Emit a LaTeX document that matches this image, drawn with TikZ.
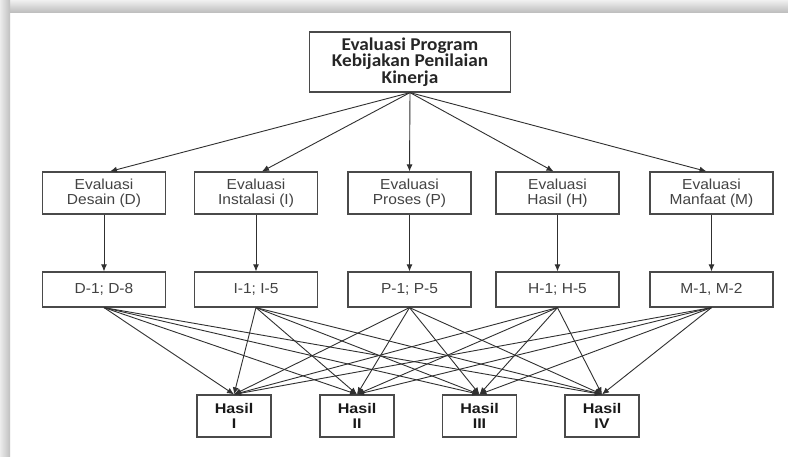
\documentclass[tikz,border=0pt]{standalone}
\usepackage{fontspec}
\usetikzlibrary{arrows.meta}
\newfontfamily\evalfont[FakeStretch=1.07]{Liberation Sans}
\newfontfamily\hasilfont[FakeStretch=1.15]{Liberation Sans}
\newfontfamily\titlefont[FakeStretch=1.07]{Carlito}
\definecolor{boxgray}{HTML}{4A4A4A}
\definecolor{linegray}{HTML}{303030}
\definecolor{txtgray}{HTML}{424242}
\begin{document}
\begin{tikzpicture}[x=1pt,y=-1pt,
  basebox/.style={draw=boxgray, line width=1.2pt, fill=white, align=center, inner sep=0pt},
  topbox/.style={basebox, minimum width=201pt, minimum height=60pt,
    font=\titlefont\bfseries\fontsize{18}{16.7}\selectfont, text=black!85},
  evalbox/.style={basebox, minimum width=123pt, minimum height=42pt,
    font=\evalfont\fontsize{14.5}{15}\selectfont, text=txtgray},
  kodebox/.style={basebox, minimum width=123pt, minimum height=35pt,
    font=\evalfont\fontsize{14.5}{15}\selectfont, text=txtgray},
  hasilbox/.style={basebox, minimum width=74pt, minimum height=42pt,
    font=\hasilfont\bfseries\fontsize{14}{15}\selectfont, text=black!90},
  link/.style={draw=linegray, line width=0.9pt, -{Latex[length=7pt,width=6pt]}}]

% page and window frame
\useasboundingbox (0,0) rectangle (788,456);
\fill[white] (0,0) rectangle (788,456);
\shade[top color=gray!12, bottom color=gray!50] (0,0) rectangle (788,12);
\shade[left color=gray!15, right color=gray!50] (0,0) rectangle (10,456);

% top level
\node[topbox] (top) at (410,62) {Evaluasi Program\\Kebijakan Penilaian\\Kinerja};

% evaluation components
\node[evalbox] (d) at (104,193)   {Evaluasi\\Desain (D)};
\node[evalbox] (i) at (256,193)   {Evaluasi\\Instalasi (I)};
\node[evalbox] (p) at (409.5,193) {Evaluasi\\Proses (P)};
\node[evalbox] (h) at (557.5,193) {Evaluasi\\Hasil (H)};
\node[evalbox] (m) at (711.5,193) {Evaluasi\\Manfaat (M)};

% indicator codes
\node[kodebox] (d2) at (104,289.5)   {D-1; D-8};
\node[kodebox] (i2) at (256,289.5)   {I-1; I-5};
\node[kodebox] (p2) at (409.5,289.5) {P-1; P-5};
\node[kodebox] (h2) at (557.5,289.5) {H-1; H-5};
\node[kodebox] (m2) at (711.5,289.5) {M-1, M-2};

% results
\node[hasilbox] (r1) at (234,416)   {Hasil\\I};
\node[hasilbox] (r2) at (357,416)   {Hasil\\II};
\node[hasilbox] (r3) at (479.5,416) {Hasil\\III};
\node[hasilbox] (r4) at (602,416)   {Hasil\\IV};

% top level to components
\draw[link] (top.south) -- ([xshift=6pt]d.north);
\draw[link] (top.south) -- ([xshift=6pt]i.north);
\draw[link] (top.south) -- (p.north);
\draw[link] (top.south) -- ([xshift=-4pt]h.north);
\draw[link] (top.south) -- ([xshift=-5pt]m.north);

% components to indicator codes
\foreach \n in {d,i,p,h,m}
  \draw[link] (\n.south) -- (\n2.north);

% every indicator group feeds every result
\foreach \n in {d2,i2,p2,h2,m2}
  \foreach \r in {r1,r2,r3,r4}
    \draw[link] (\n.south) -- (\r.north);
\end{tikzpicture}
\end{document}
